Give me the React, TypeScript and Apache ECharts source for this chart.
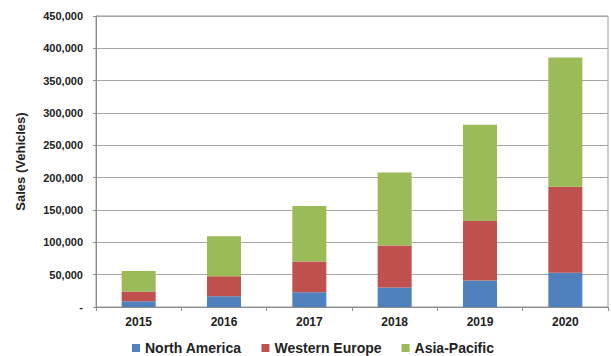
import React, { useEffect, useRef } from "react";
import * as echarts from "echarts";

const years = ["2015", "2016", "2017", "2018", "2019", "2020"];
const northAmerica = [9000, 16500, 23000, 30000, 41000, 53000];
const westernEurope = [15000, 31000, 47500, 65000, 92000, 133000];
const asiaPacific = [31500, 62000, 85500, 113000, 149000, 200000];

const FONT = "'Liberation Sans', Arial, sans-serif";

function fmt(v: number): string {
  if (v === 0) return "-";
  return String(v).replace(/\B(?=(\d{3})+(?!\d))/g, ",");
}

export default function App() {
  const ref = useRef<HTMLDivElement>(null);
  useEffect(() => {
    if (!ref.current) return;
    const chart = echarts.init(ref.current, undefined, { renderer: "svg" });
    const bar = (name: string, data: number[], color: string) => ({
      name,
      type: "bar",
      stack: "total",
      data,
      barWidth: 34,
      itemStyle: { color },
    });
    chart.setOption({
      animation: false,
      backgroundColor: "#ffffff",
      textStyle: { fontFamily: FONT },
      grid: {
        left: 96,
        right: 3,
        top: 16,
        bottom: 49,
        show: true,
        borderColor: "#9a9a9a",
        borderWidth: 1,
      },
      legend: {
        top: 341,
        left: 132,
        padding: 0,
        icon: "rect",
        itemWidth: 8,
        itemHeight: 8,
        itemGap: 20,
        textStyle: {
          fontFamily: FONT,
          fontSize: 14,
          lineHeight: 14,
          fontWeight: "bold",
          color: "#222",
        },
        data: ["North America", "Western Europe", "Asia-Pacific"],
      },
      xAxis: {
        type: "category",
        data: years,
        axisLine: { show: true, lineStyle: { color: "#8c8c8c" } },
        axisTick: { show: true, length: 4, lineStyle: { color: "#8c8c8c" } },
        axisLabel: { fontFamily: FONT, fontSize: 12, fontWeight: "bold", color: "#222", margin: 9 },
      },
      yAxis: {
        type: "value",
        min: 0,
        max: 450000,
        interval: 50000,
        name: "Sales (Vehicles)",
        nameLocation: "middle",
        nameGap: 69,
        nameTextStyle: { fontFamily: FONT, fontSize: 13, fontWeight: "bold", color: "#222" },
        axisLine: { show: true, lineStyle: { color: "#8c8c8c" } },
        axisTick: { show: true, length: 3, lineStyle: { color: "#8c8c8c" } },
        axisLabel: {
          fontFamily: FONT,
          fontSize: 11,
          fontWeight: "bold",
          color: "#222",
          margin: 13,
          formatter: (v: number) => fmt(v),
        },
        splitLine: { show: true, lineStyle: { color: "#a6a6a6", width: 1 } },
      },
      series: [
        bar("North America", northAmerica, "#4f81bd"),
        bar("Western Europe", westernEurope, "#c0504d"),
        bar("Asia-Pacific", asiaPacific, "#9bbb59"),
      ],
    });
    return () => chart.dispose();
  }, []);
  return (
    <div
      ref={ref}
      style={{ position: "fixed", left: 0, top: 0, width: 611, height: 356 }}
    />
  );
}
